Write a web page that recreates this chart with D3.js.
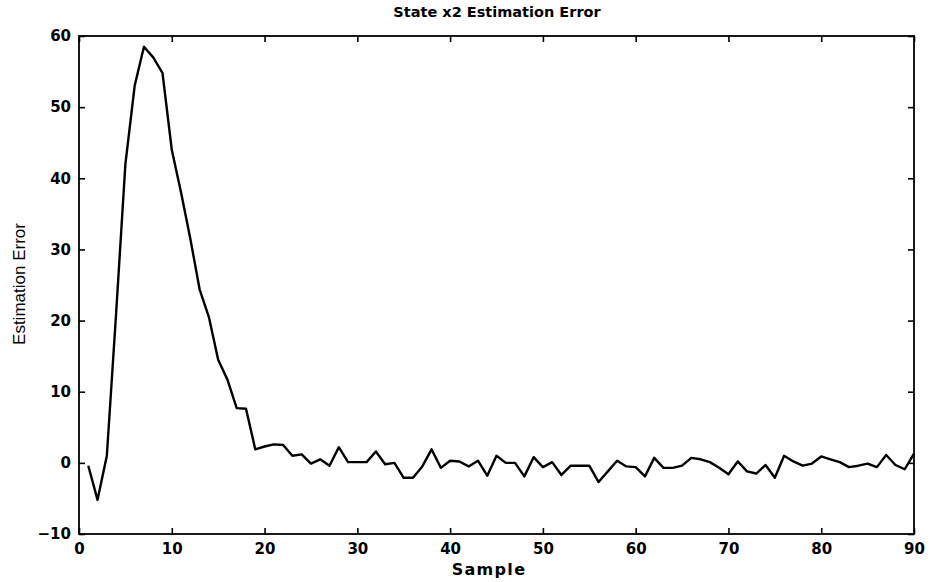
<!DOCTYPE html>
<html>
<head>
<meta charset="utf-8">
<script src="https://cdn.jsdelivr.net/npm/d3@7"></script>
<style>
  html, body { margin: 0; padding: 0; background: #fff; }
  svg { display: block; }
</style>
</head>
<body>
<svg id="chart" width="933" height="582"></svg>
<script>
// ---- data ----
const samples = d3.range(1, 91);
const errorValues = [
  -0.4, -5.2, 1.0, 21, 42, 53, 58.5, 57, 54.8, 44,
  38, 31.5, 24.4, 20.5, 14.5, 11.7, 7.7, 7.6, 1.9, 2.3,
  2.6, 2.5, 1.0, 1.2, -0.1, 0.5, -0.4, 2.2, 0.1, 0.1,
  0.1, 1.6, -0.2, 0.0, -2.1, -2.1, -0.5, 1.9, -0.7, 0.3,
  0.2, -0.5, 0.3, -1.8, 1.0, 0.0, 0.0, -1.9, 0.8, -0.6,
  0.1, -1.7, -0.4, -0.4, -0.4, -2.7, -1.2, 0.3, -0.5, -0.6,
  -1.9, 0.7, -0.7, -0.7, -0.4, 0.7, 0.5, 0.1, -0.7, -1.6,
  0.2, -1.2, -1.5, -0.3, -2.1, 1.0, 0.2, -0.4, -0.1, 0.9,
  0.5, 0.1, -0.6, -0.4, -0.1, -0.6, 1.1, -0.3, -0.9, 1.3
];
const xTicks = [0, 10, 20, 30, 40, 50, 60, 70, 80, 90];
const yTicks = [-10, 0, 10, 20, 30, 40, 50, 60];
const titleText = "State x2 Estimation Error";
const xLabelText = "Sample";
const yLabelText = "Estimation Error";

// ---- layout ----
const plotL = 79, plotR = 914, plotT = 36, plotB = 534;
const svg = d3.select("#chart");
const x = d3.scaleLinear().domain([0, 90]).range([plotL, plotR]);
const y = d3.scaleLinear().domain([-10, 60]).range([plotB, plotT]);

const boldFont = "'DejaVu Sans', 'Liberation Sans', Arial, sans-serif";

// axes with inward ticks (MATLAB style)
const tickLen = 6;
const axB = d3.axisBottom(x).tickValues(xTicks).tickSizeInner(-tickLen).tickSizeOuter(0).tickPadding(9).tickFormat(d3.format("d"));
const axT = d3.axisTop(x).tickValues(xTicks).tickSizeInner(-tickLen).tickSizeOuter(0).tickFormat("");
const axL = d3.axisLeft(y).tickValues(yTicks).tickSizeInner(-tickLen).tickSizeOuter(0).tickPadding(8).tickFormat(d => d < 0 ? "\u2212" + Math.abs(d) : d);
const axR = d3.axisRight(y).tickValues(yTicks).tickSizeInner(-tickLen).tickSizeOuter(0).tickFormat("");

function styleAxis(g) {
  g.select(".domain").remove();
  g.selectAll(".tick line").attr("stroke", "#000").attr("stroke-width", 1.6);
  g.selectAll(".tick text")
    .attr("fill", "#000")
    .style("font-family", boldFont)
    .style("font-weight", "bold")
    .style("font-size", "15px");
}

svg.append("g").attr("transform", `translate(0,${plotB})`).call(axB).call(styleAxis);
svg.append("g").attr("transform", `translate(0,${plotT})`).call(axT).call(styleAxis);
svg.append("g").attr("transform", `translate(${plotL},0)`).call(axL).call(styleAxis);
svg.append("g").attr("transform", `translate(${plotR},0)`).call(axR).call(styleAxis);

// frame
svg.append("rect")
  .attr("x", plotL).attr("y", plotT)
  .attr("width", plotR - plotL).attr("height", plotB - plotT)
  .attr("fill", "none").attr("stroke", "#000").attr("stroke-width", 1.8);

// line
const line = d3.line()
  .x((d, i) => x(samples[i]))
  .y(d => y(d));

svg.append("path")
  .datum(errorValues)
  .attr("d", line)
  .attr("fill", "none")
  .attr("stroke", "#000")
  .attr("stroke-width", 2.4)
  .attr("stroke-linejoin", "round");

// title
svg.append("text")
  .attr("x", 497).attr("y", 17)
  .attr("text-anchor", "middle")
  .attr("fill", "#000")
  .style("font-family", boldFont)
  .style("font-weight", "bold")
  .style("font-size", "14.5px")
  .text(titleText);

// x label
svg.append("text")
  .attr("x", 489).attr("y", 575)
  .attr("text-anchor", "middle")
  .attr("fill", "#000")
  .style("font-family", boldFont)
  .style("font-weight", "bold")
  .style("font-size", "16px")
  .style("letter-spacing", "1.3px")
  .text(xLabelText);

// y label
svg.append("text")
  .attr("transform", `translate(25,284) rotate(-90)`)
  .attr("text-anchor", "middle")
  .attr("fill", "#000")
  .style("font-family", "'Liberation Sans', Arial, sans-serif")
  .style("font-size", "17px")
  .text(yLabelText);
</script>
</body>
</html>
